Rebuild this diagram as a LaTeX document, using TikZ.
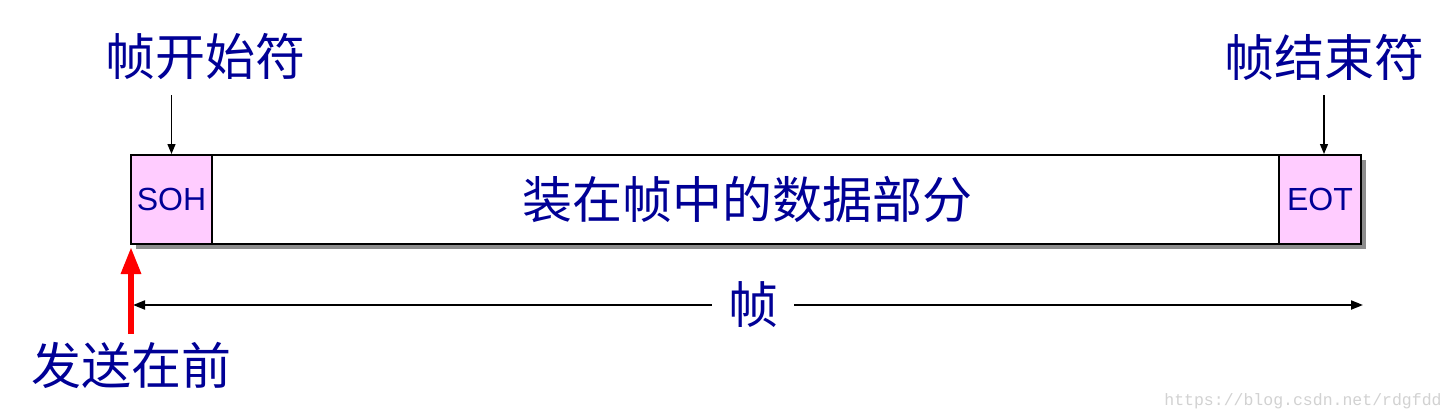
\documentclass[tikz,border=0pt]{standalone}
\usepackage{fontspec}
\setmainfont{Liberation Sans}
\newfontfamily\cjk{Noto Sans CJK SC}
\newfontfamily\wmfont{Liberation Mono}
\usetikzlibrary{arrows.meta,calc}
\definecolor{txtblue}{RGB}{0,0,150}
\definecolor{pinkfill}{RGB}{255,204,255}
\begin{document}
\begin{tikzpicture}[x=1pt,y=-1pt,
  cjklabel/.style={text=txtblue,font=\cjk\fontsize{50}{50}\selectfont,inner sep=0pt},
  codebox/.style={draw=black,line width=2pt,fill=pinkfill,minimum height=89pt,inner sep=0pt,
    text=txtblue,font=\fontsize{32}{32}\selectfont},
  thinarrow/.style={draw=black,line width=1.3pt,-{Triangle[length=10pt,width=8pt]}},
  dimarrow/.style={draw=black,line width=2pt,-{Triangle[length=12pt,width=9pt]}}
]
\useasboundingbox (0,0) rectangle (1454,420);
\fill[white] (0,0) rectangle (1454,420);
% shadow
\fill[gray!90] (136,160) rectangle (1366,249);
% frame body
\node[draw=black,line width=2pt,fill=white,minimum width=1230pt,minimum height=89pt,inner sep=0pt] (frame) at (746,199.5) {};
\node[codebox,minimum width=81pt] (soh) at (171.5,199.5) {SOH};
\node[codebox,minimum width=82pt] (eot) at (1320,199.5) {EOT};
\node[cjklabel] (data) at (747,200) {装在帧中的数据部分};
% labels
\node[cjklabel] (startlbl) at (205,57) {帧开始符};
\node[cjklabel] (endlbl) at (1324,57) {帧结束符};
\node[cjklabel] (sendlbl) at (131,365) {发送在前};
\node[cjklabel,inner xsep=16pt] (flabel) at (753,305) {帧};
% pointers
\coordinate (sohtop) at (171.5,95);
\coordinate (eottop) at (1324,95);
\draw[thinarrow] (sohtop) -- (soh.north);
\draw[thinarrow] (eottop) -- (eot.north -| eottop);
% dimension line
\coordinate (dimL) at (133,305);
\coordinate (dimR) at (1363,305);
\draw[dimarrow] (flabel.west) -- (dimL);
\draw[dimarrow] (flabel.east) -- (dimR);
% red send arrow
\coordinate (redbot) at (131,334);
\coordinate (redtip) at (131,247);
\draw[red,line width=6pt,-{Triangle[length=27pt,width=19pt]}] (redbot) -- (redtip);
% watermark
\node[text=gray!35,font=\wmfont\fontsize{16.5}{16.5}\selectfont,inner sep=0pt] (wm) at (1303,401) {https://blog.csdn.net/rdgfdd};
\end{tikzpicture}
\end{document}
